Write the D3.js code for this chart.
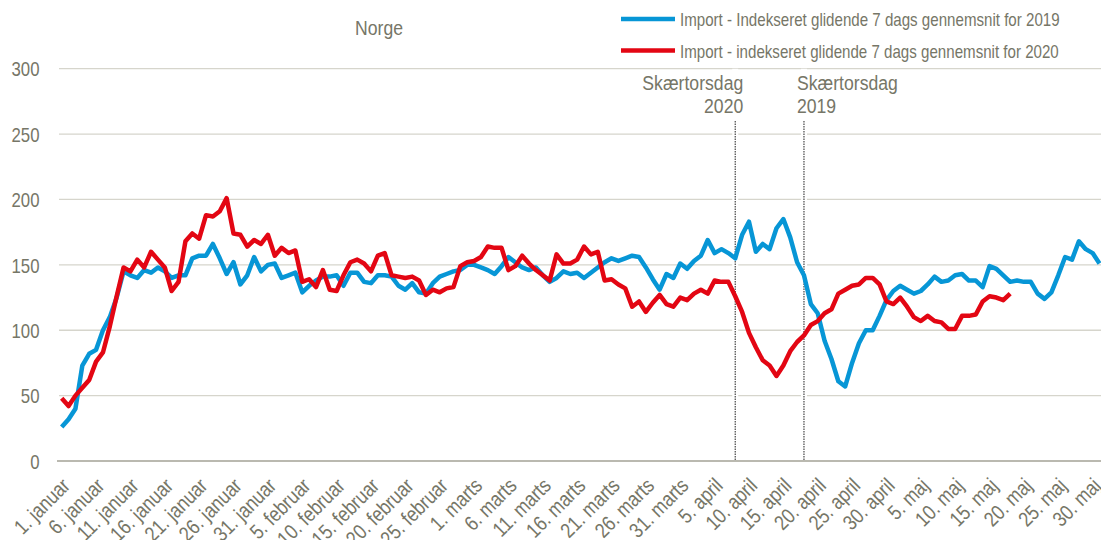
<!DOCTYPE html>
<html>
<head>
<meta charset="utf-8">
<script src="https://cdn.jsdelivr.net/npm/d3@7"></script>
<style>
  body { margin: 0; background: #fff; }
  text { font-family: "Liberation Sans", Arial, sans-serif; fill: #767667; }
</style>
</head>
<body>
<div class="chart"></div>
<script>
var svg_width = 1101;
var svg_height = 540;
// horizontal squeeze to imitate the narrow font of the original
var SQ = 0.84;

// Months shown on the category axis (2020 calendar)
var monthNames = ["januar", "februar", "marts", "april", "maj"];
var monthDays = [31, 29, 31, 30, 31];

// Y axis ticks
var yTicks = [0, 50, 100, 150, 200, 250, 300];

// Series values, one per day from 1. januar
var import2019 = [26, 32, 40, 73, 82, 85, 100, 110, 125, 145,
	142, 140, 146, 144, 148, 145, 140, 142, 142, 155,
	157, 157, 166, 155, 143, 152, 135, 142, 156, 145,
	150, 151, 140, 142, 144, 129, 134, 138, 141, 141,
	142, 134, 144, 144, 137, 136, 142, 142, 141, 134,
	131, 136, 129, 128, 136, 141, 143, 145, 146, 150,
	150, 148, 146, 143, 149, 156, 152, 148, 146, 148,
	142, 137, 140, 145, 143, 144, 140, 144, 148, 152,
	155, 153, 155, 157, 156, 148, 139, 131, 143, 140,
	151, 147, 153, 157, 169, 159, 162, 159, 155, 173,
	183, 160, 166, 162, 178, 185, 171, 152, 142, 120,
	113, 92, 78, 61, 57, 75, 90, 100, 100, 111,
	123, 130, 134, 131, 128, 130, 135, 141, 137, 138,
	142, 143, 138, 138, 133, 149, 147, 142, 137, 138,
	137, 137, 128, 124, 129, 142, 156, 154, 168, 162,
	159, 151];

var import2020 = [48, 42, 50, 56, 62, 76, 83, 103, 126, 148,
	145, 154, 148, 160, 154, 148, 130, 137, 168, 174,
	170, 188, 187, 191, 201, 174, 173, 164, 169, 166,
	173, 157, 163, 159, 161, 137, 139, 133, 146, 131,
	130, 142, 152, 154, 151, 145, 157, 159, 142, 141,
	140, 141, 138, 127, 131, 129, 132, 133, 149, 152,
	153, 156, 164, 163, 163, 146, 149, 157, 151, 146,
	142, 138, 158, 151, 151, 154, 164, 158, 160, 138,
	139, 135, 132, 118, 122, 114, 121, 127, 120, 118,
	125, 123, 128, 131, 128, 138, 137, 137, 126, 114,
	98, 87, 77, 73, 65, 73, 84, 91, 96, 104,
	107, 113, 116, 128, 131, 134, 135, 140, 140, 135,
	122, 120, 125, 118, 110, 107, 111, 107, 106, 101,
	101, 111, 111, 112, 122, 126, 125, 123, 128];

// Legend entries
var seriesNames = ["Import - Indekseret glidende 7 dags gennemsnit for 2019",
	"Import - indekseret glidende 7 dags gennemsnit for 2020"];
var seriesColors = ["#0796d6", "#e30613"];

// Skærtorsdag markers (category index) and their labels
var markerIndex = [98, 108];
var markerLabels = [["Skærtorsdag", "2020"], ["Skærtorsdag", "2019"]];

// Build category labels
var categories = [];
monthDays.forEach(function(n, m) {
	for (var d = 1; d <= n; d++) categories.push(d + ". " + monthNames[m]);
});

var svg = d3.select(".chart")
	.append("svg")
	.attr("width", svg_width)
	.attr("height", svg_height);

var xScale = d3.scaleLinear()
	.domain([0, categories.length - 1])
	.range([61.7, 1099.5]);

var yScale = d3.scaleLinear()
	.domain([0, 300])
	.range([461, 68.7]);

// put a squeezed text at x,y
function squeeze(sel, x, y, extra) {
	sel.attr("x", 0).attr("y", 0)
		.attr("transform", `translate(${x},${y})${extra || ""} scale(${SQ},1)`);
}

// Gridlines
svg.append("g")
	.selectAll("line")
	.data(yTicks.slice(1))
	.enter()
	.append("line")
	.attr("x1", 59)
	.attr("x2", 1101)
	.attr("y1", d => yScale(d))
	.attr("y2", d => yScale(d))
	.attr("stroke", "#d6d5cc")
	.attr("stroke-width", 1.3);

// Y labels
var left_axis = d3.axisLeft(yScale).tickValues(yTicks).tickSize(0);
var yAxis = svg.append("g").call(left_axis);
yAxis.select(".domain").remove();
yAxis.selectAll("text")
	.style("font-size", "20px")
	.attr("fill", "#767667")
	.attr("text-anchor", "end")
	.attr("dy", "0.36em")
	.each(function() { squeeze(d3.select(this), 39.5, 0); });

// Skærtorsdag lines
var markers = svg.append("g");
markers.selectAll(".bg")
	.data(markerIndex)
	.enter()
	.append("line")
	.attr("x1", d => xScale(d))
	.attr("x2", d => xScale(d))
	.attr("y1", yScale(300))
	.attr("y2", yScale(0))
	.attr("stroke", "#fff")
	.attr("stroke-width", 6);
markers.selectAll(".mk")
	.data(markerIndex)
	.enter()
	.append("line")
	.attr("x1", d => xScale(d))
	.attr("x2", d => xScale(d))
	.attr("y1", 121)
	.attr("y2", yScale(0))
	.attr("stroke", "#444")
	.attr("stroke-width", 1.2)
	.attr("stroke-dasharray", "1.5,1");

markerLabels.forEach(function(lbl, i) {
	var first = i === 0;
	var mx = xScale(markerIndex[i]) + (first ? 8 : -7);
	lbl.forEach(function(s, j) {
		var t = svg.append("text")
			.attr("text-anchor", first ? "end" : "start")
			.style("font-size", "21px")
			.text(s);
		squeeze(t, mx, 90 + j * 23);
	});
});

// Zero axis line
svg.append("line")
	.attr("x1", 57)
	.attr("x2", 1101)
	.attr("y1", yScale(0))
	.attr("y2", yScale(0))
	.attr("stroke", "#a3a296")
	.attr("stroke-width", 1.5);

// Category labels every 5 days
var bottom_axis = d3.axisBottom(xScale)
	.tickValues(d3.range(0, categories.length, 5))
	.tickFormat(i => categories[i])
	.tickSize(0);
var xAxis = svg.append("g")
	.attr("transform", `translate(0,${yScale(0)})`)
	.call(bottom_axis);
xAxis.select(".domain").remove();
xAxis.selectAll("text")
	.style("font-size", "21px")
	.attr("fill", "#767667")
	.attr("text-anchor", "end")
	.attr("dy", null)
	.each(function() { squeeze(d3.select(this), 9, 26, " rotate(-45)"); });

// Lines
var line = d3.line()
	.x((d, i) => xScale(i))
	.y(d => yScale(d));

[import2019, import2020].forEach(function(series, i) {
	svg.append("path")
		.datum(series)
		.attr("fill", "none")
		.attr("stroke", seriesColors[i])
		.attr("stroke-width", 4.5)
		.attr("stroke-linejoin", "round")
		.attr("d", line);
});

// Title
var title = svg.append("text")
	.attr("text-anchor", "middle")
	.style("font-size", "21px")
	.text("Norge");
squeeze(title, 379, 35);

// Legend
var legend = svg.append("g");
seriesNames.forEach(function(name, i) {
	var ly = 19 + i * 31.5;
	legend.append("line")
		.attr("x1", 621)
		.attr("x2", 675)
		.attr("y1", ly)
		.attr("y2", ly)
		.attr("stroke", seriesColors[i])
		.attr("stroke-width", 4.5);
	var t = legend.append("text")
		.style("font-size", "18px")
		.text(name);
	squeeze(t, 680, ly + 7);
});
</script>
</body>
</html>
